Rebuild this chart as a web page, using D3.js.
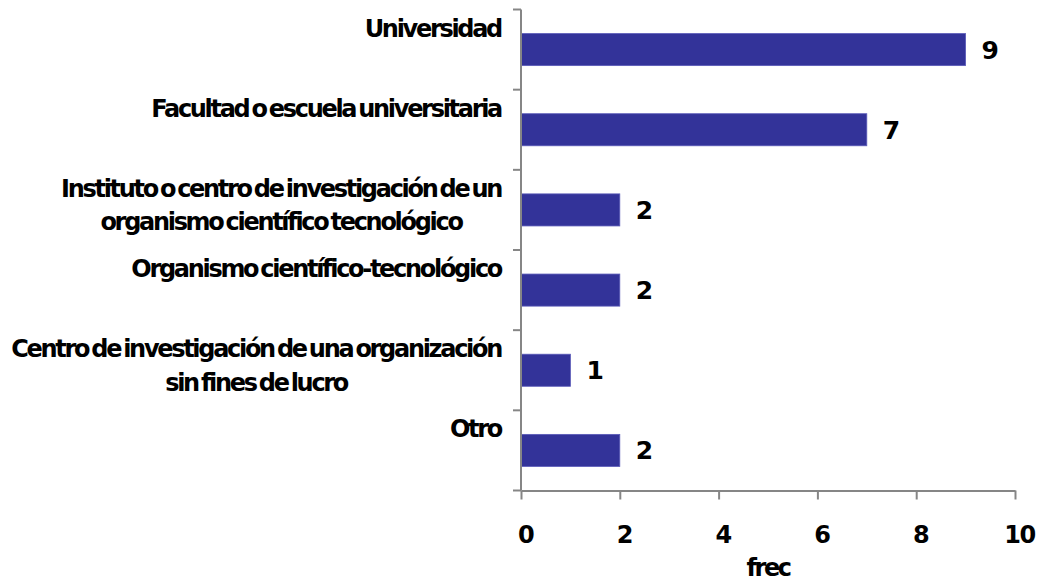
<!DOCTYPE html>
<html>
<head>
<meta charset="utf-8">
<script src="https://cdn.jsdelivr.net/npm/d3@7"></script>
<style>
  html, body { margin: 0; padding: 0; background: #fff; }
  svg { display: block; }
  text { font-family: "DejaVu Sans", Verdana, sans-serif; font-weight: bold; fill: #000; }
</style>
</head>
<body>
<svg id="chart" width="1039" height="583"></svg>
<script>
// Institution types (each entry split into its display lines)
const categories = [
  "Universidad",
  "Facultad o escuela universitaria",
  "Instituto o centro de investigación de un organismo científico tecnológico",
  "Organismo científico-tecnológico",
  "Centro de investigación de una organización sin fines de lucro",
  "Otro"
];
const labelLines = [
  ["Universidad"],
  ["Facultad o escuela universitaria"],
  ["Instituto o centro de investigación de un", "organismo científico tecnológico"],
  ["Organismo científico-tecnológico"],
  ["Centro de investigación de una organización", "sin fines de lucro"],
  ["Otro"]
];
const frec = [9, 7, 2, 2, 1, 2];
const xTicks = [0, 2, 4, 6, 8, 10];
const xTitle = "frec";

const svg = d3.select("#chart");
const plot = { left: 521, right: 1015, top: 9.5, bottom: 490.5 };

const x = d3.scaleLinear().domain([0, 10]).range([plot.left, plot.right]);
const y = d3.scaleBand().domain(categories).range([plot.top, plot.bottom]).padding(0);

const barH = y.bandwidth() * 0.4;
const axisColor = "#868686";

// bars
svg.append("g").selectAll("rect")
  .data(categories)
  .join("rect")
  .attr("x", x(0))
  .attr("y", d => y(d) + (y.bandwidth() - barH) / 2)
  .attr("width", (d, i) => x(frec[i]) - x(0))
  .attr("height", barH)
  .attr("fill", "#333399")
  .attr("stroke", "#5a5ab8")
  .attr("stroke-width", 0.8);

// value labels
svg.append("g").selectAll("text")
  .data(categories)
  .join("text")
  .attr("x", (d, i) => x(frec[i]) + 16)
  .attr("y", d => y(d) + y.bandwidth() / 2)
  .attr("dy", "0.36em")
  .attr("font-size", 25)
  .text((d, i) => frec[i]);

// category axis: line with ticks at band boundaries
const yAxis = svg.append("g");
yAxis.append("line")
  .attr("x1", plot.left).attr("x2", plot.left)
  .attr("y1", plot.top).attr("y2", plot.bottom)
  .attr("stroke", axisColor).attr("stroke-width", 2);
const bounds = categories.map(c => y(c)).concat([y.range()[1]]);
yAxis.selectAll("line.tick")
  .data(bounds)
  .join("line")
  .attr("class", "tick")
  .attr("x1", plot.left - 8).attr("x2", plot.left)
  .attr("y1", d => d).attr("y2", d => d)
  .attr("stroke", axisColor).attr("stroke-width", 2);

// category labels: right-aligned block, lines centred within the block
const labelRight = 501;
const labelG = svg.append("g");
categories.forEach((c, i) => {
  const lines = labelLines[i];
  const g = labelG.append("g");
  const texts = lines.map((ln, k) =>
    g.append("text")
      .attr("font-size", 24)
      .style("letter-spacing", "-2.3px")
      .style("word-spacing", "-3px")
      .attr("text-anchor", "middle")
      .attr("y", y(c) + 27 + k * 33.5)
      .text(ln)
  );
  const widths = texts.map(t => t.node().getComputedTextLength());
  const blockW = d3.max(widths);
  texts.forEach(t => t.attr("x", labelRight - blockW / 2));
});

// value axis
const xAxis = svg.append("g")
  .attr("transform", `translate(0,${plot.bottom})`)
  .call(d3.axisBottom(x).tickValues(xTicks).tickSize(9).tickSizeOuter(0).tickPadding(26));
xAxis.select(".domain").attr("stroke", axisColor).attr("stroke-width", 2);
xAxis.selectAll(".tick line").attr("stroke", axisColor).attr("stroke-width", 2);
xAxis.selectAll(".tick text")
  .attr("font-family", "DejaVu Sans, Verdana, sans-serif")
  .attr("font-weight", "bold")
  .attr("font-size", 24)
  .attr("dx", 4)
  .style("letter-spacing", "-1.5px")
  .attr("fill", "#000");

// axis title
svg.append("text")
  .attr("x", (plot.left + plot.right) / 2)
  .attr("y", 576)
  .attr("text-anchor", "middle")
  .attr("font-size", 24)
  .style("letter-spacing", "-2.5px")
  .text(xTitle);
</script>
</body>
</html>
